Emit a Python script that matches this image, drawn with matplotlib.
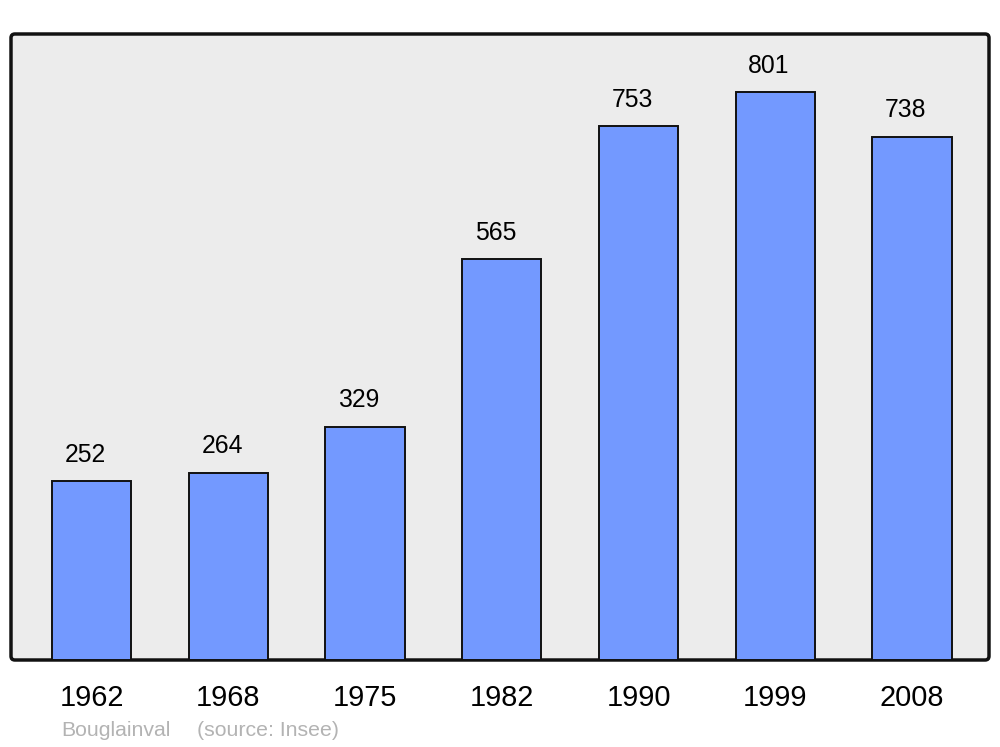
import matplotlib.pyplot as plt
from matplotlib.patches import FancyBboxPatch

years = ["1962", "1968", "1975", "1982", "1990", "1999", "2008"]
population = [252, 264, 329, 565, 753, 801, 738]

plt.rcParams['font.family'] = ['Liberation Sans', 'DejaVu Sans']

fig = plt.figure(figsize=(10, 7.47), dpi=100)
ax = fig.add_axes([11 / 1000, 87 / 747, 978 / 1000, 626 / 747])
ax.set_facecolor("none")
for s in ax.spines.values():
    s.set_visible(False)

# rounded frame
frame = FancyBboxPatch((0, 0), 1, 1, boxstyle="round,pad=0,rounding_size=0.004",
                       mutation_aspect=978 / 626, transform=ax.transAxes,
                       facecolor="#ececec", edgecolor="#111111", linewidth=2.5,
                       zorder=0, clip_on=False)
ax.add_patch(frame)

x = list(range(len(years)))
ax.bar(x, population, width=0.58, color="#7399ff", edgecolor="#111111",
       linewidth=1.4, zorder=2)
for xi, v in zip(x, population):
    ax.annotate(str(v), (xi, v), xytext=(-4.5, 19), textcoords="offset points",
                ha="center", va="center", fontsize=17.8)

ax.set_xlim(-0.589, 6.563)
ax.set_ylim(0, 883)
ax.set_yticks([])
ax.set_xticks(x, years, fontsize=20.8)
ax.tick_params(axis="x", length=0, pad=17)

fig.text(61 / 1000, 1 - 731 / 747, "Bouglainval", fontsize=15.3,
         color="#b3b3b3", va="center", ha="left")
fig.text(197 / 1000, 1 - 731 / 747, "(source: Insee)", fontsize=15.3,
         color="#b3b3b3", va="center", ha="left")

fig.savefig("out.png", dpi=100)
